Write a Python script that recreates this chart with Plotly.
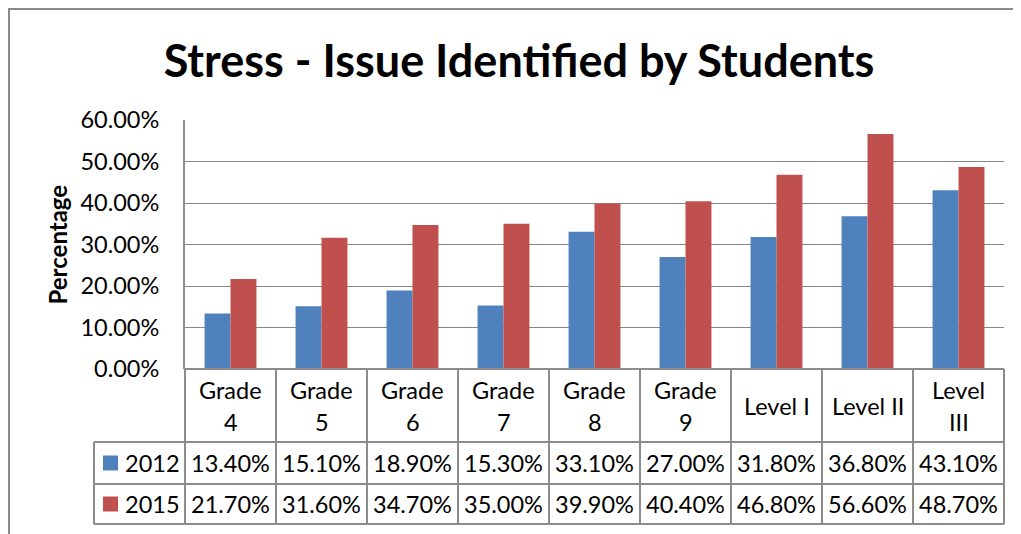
import plotly.graph_objects as go

# ---------------- data ----------------
categories = ["Grade 4", "Grade 5", "Grade 6", "Grade 7", "Grade 8",
              "Grade 9", "Level I", "Level II", "Level III"]
category_lines = [["Grade", "4"], ["Grade", "5"], ["Grade", "6"], ["Grade", "7"],
                  ["Grade", "8"], ["Grade", "9"], ["Level I"], ["Level II"],
                  ["Level", "III"]]
series_names = ["2012", "2015"]
values_2012 = [13.4, 15.1, 18.9, 15.3, 33.1, 27.0, 31.8, 36.8, 43.1]
values_2015 = [21.7, 31.6, 34.7, 35.0, 39.9, 40.4, 46.8, 56.6, 48.7]
y_tick_values = [0, 10, 20, 30, 40, 50, 60]
title_text = "Stress - Issue Identified by Students"
y_title = "Percentage"

# ---------------- style ----------------
colors = ["#4F81BD", "#C0504D"]
FONT = "Lato"
GRID = "#878787"
TABLE_LINE = "#8C8C8C"
OFF = 8                      # page body margin
W, H = 1021 - OFF, 534 - OFF
ML, MR, MT = 185 - OFF, 17, 120 - OFF
PLOT_BOTTOM = 369 - OFF
MB = H - PLOT_BOTTOM
PW, PH = W - ML - MR, PLOT_BOTTOM - MT
n = len(categories)

def py(px_below):          # pixels below the x-axis -> paper y
    return -px_below / PH

def fx(px):                # figure pixel x -> paper x
    return (px - ML) / PW

def fy(px):                # figure pixel y -> paper y
    return (PLOT_BOTTOM - px) / PH

row_edges = [0, 73, 115, 155]   # category row, 2012 row, 2015 row (px below axis)

fig = go.Figure()
all_values = [values_2012, values_2015]
for name, vals, col in zip(series_names, all_values, colors):
    fig.add_bar(x=categories, y=[v / 100 for v in vals], name=name,
                marker=dict(color=col, line=dict(width=0)))

shapes = []
for k in range(n + 1):
    shapes.append(dict(type="line", xref="paper", yref="paper",
                       x0=k / n, x1=k / n, y0=py(row_edges[0]), y1=py(row_edges[3]),
                       line=dict(color=TABLE_LINE, width=2)))
shapes.append(dict(type="line", xref="paper", yref="paper",
                   x0=-1 / n, x1=-1 / n, y0=py(row_edges[1]), y1=py(row_edges[3]),
                   line=dict(color=TABLE_LINE, width=2)))
shapes.append(dict(type="line", xref="paper", yref="paper", x0=0, x1=1,
                   y0=0, y1=0, line=dict(color=TABLE_LINE, width=2)))
for e in row_edges[1:]:
    shapes.append(dict(type="line", xref="paper", yref="paper", x0=-1 / n, x1=1,
                       y0=py(e), y1=py(e), line=dict(color=TABLE_LINE, width=2)))
for i, col in enumerate(colors):
    yc = py((row_edges[i + 1] + row_edges[i + 2]) / 2)
    shapes.append(dict(type="rect", xref="paper", yref="paper",
                       xsizemode="pixel", xanchor=-1 / n, x0=9, x1=24,
                       ysizemode="pixel", yanchor=yc, y0=-7.5, y1=7.5,
                       fillcolor=col, line=dict(width=0)))
# outer chart frame (cut by the window on the right and bottom)
shapes.append(dict(type="rect", xref="paper", yref="paper",
                   x0=fx(1), x1=fx(W + 40), y0=fy(H + 40), y1=fy(1),
                   line=dict(color="#8A8A8A", width=2), fillcolor="rgba(0,0,0,0)", layer="below"))

annotations = []
tfont = dict(family=FONT, size=23.5, color="black")
yc_cat = py((row_edges[0] + row_edges[1]) / 2)
for cat, lines in zip(categories, category_lines):
    if len(lines) == 1:
        annotations.append(dict(x=cat, xref="x", y=yc_cat, yref="paper", text=lines[0],
                                showarrow=False, font=tfont, xanchor="center", yanchor="middle"))
    else:
        for j, ln in enumerate(lines):
            annotations.append(dict(x=cat, xref="x", y=yc_cat, yref="paper", text=ln,
                                    showarrow=False, font=tfont, xanchor="center",
                                    yanchor="middle", yshift=16 - 32 * j))
for i, (name, vals) in enumerate(zip(series_names, all_values)):
    yc = py((row_edges[i + 1] + row_edges[i + 2]) / 2)
    for cat, v in zip(categories, vals):
        annotations.append(dict(x=cat, xref="x", y=yc, yref="paper", text=f"{v:.2f}%",
                                showarrow=False, font=tfont, xanchor="center", yanchor="middle"))
    annotations.append(dict(x=-1 / n, xref="paper", y=yc, yref="paper", text=name,
                            showarrow=False, font=tfont, xanchor="left", yanchor="middle",
                            xshift=29))
annotations.append(dict(x=fx(57 - OFF), xref="paper", y=0.5, yref="paper", text=f"<b>{y_title}</b>",
                        textangle=-90, showarrow=False,
                        font=dict(family=FONT, size=24, color="black"),
                        xanchor="center", yanchor="middle"))

fig.update_layout(
    width=W, height=H,
    margin=dict(l=ML, r=MR, t=MT, b=MB),
    paper_bgcolor="white", plot_bgcolor="white",
    showlegend=False,
    barmode="group", bargap=0.43, bargroupgap=0,
    title=dict(text=f"<b>{title_text}</b>", xref="container", yref="container",
               x=(519 - OFF) / W, xanchor="center", y=1 - (61 - OFF) / H, yanchor="middle",
               font=dict(family=FONT, size=45, color="black")),
    xaxis=dict(type="category", range=[-0.5, n - 0.5], showticklabels=False,
               showgrid=False, showline=False, zeroline=False, ticks=""),
    yaxis=dict(range=[0, 0.6], tickvals=[v / 100 for v in y_tick_values],
               tickformat=".2%", showgrid=True, gridcolor=GRID, gridwidth=1,
               showline=True, linecolor=TABLE_LINE, linewidth=2, zeroline=False,
               ticks="", ticklabelstandoff=19,
               tickfont=dict(family=FONT, size=23.5, color="black")),
    shapes=shapes, annotations=annotations,
)

fig.write_html("out.html")
